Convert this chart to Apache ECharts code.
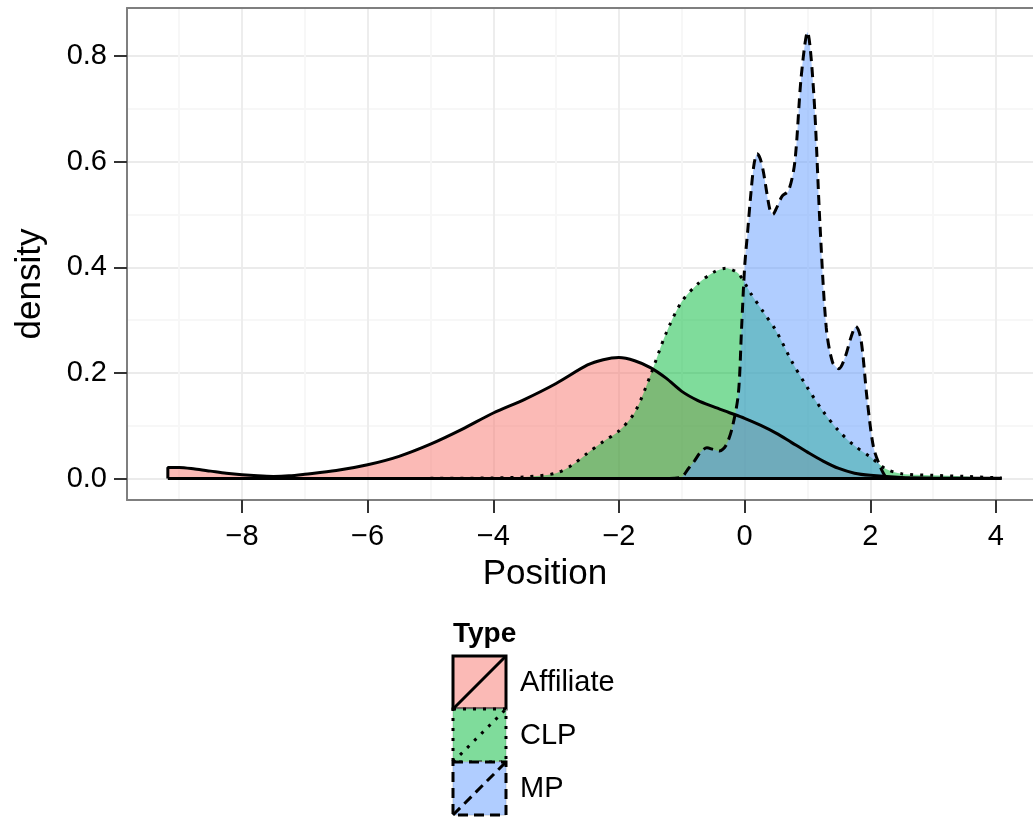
<!DOCTYPE html>
<html>
<head>
<meta charset="utf-8">
<script src="https://cdn.jsdelivr.net/npm/echarts@6/dist/echarts.min.js"></script>
<style>
  html, body { margin: 0; padding: 0; background: #fff; }
  #chart { width: 1033px; height: 819px; }
</style>
</head>
<body>
<div id="chart"></div>
<script>
// density estimates
const affX = [-9.18, -9.18, -9.0, -8.75, -8.5, -8.25, -8.0, -7.75, -7.5, -7.25, -7.0, -6.5, -6.0, -5.5, -5.0, -4.5, -4.0, -3.5, -3.0, -2.5, -2.25, -2.0, -1.75, -1.5, -1.25, -1.0, -0.75, -0.5, -0.25, 0.0, 0.25, 0.5, 0.75, 1.0, 1.25, 1.5, 1.75, 2.0, 2.5, 3.0, 3.5, 4.09];
const affY = [0, 0.021, 0.021, 0.018, 0.014, 0.010, 0.007, 0.005, 0.004, 0.005, 0.008, 0.015, 0.026, 0.042, 0.065, 0.093, 0.124, 0.150, 0.180, 0.215, 0.225, 0.229, 0.223, 0.210, 0.190, 0.165, 0.148, 0.136, 0.125, 0.114, 0.101, 0.086, 0.068, 0.050, 0.033, 0.019, 0.010, 0.006, 0.002, 0.001, 0.0005, 0.0003];

const clpX = [-5.0, -4.0, -3.5, -3.0, -2.75, -2.5, -2.25, -2.0, -1.75, -1.5, -1.25, -1.0, -0.75, -0.5, -0.3, -0.1, 0.1, 0.3, 0.5, 0.75, 1.0, 1.25, 1.5, 1.75, 2.0, 2.25, 2.5, 3.0, 3.5, 4.09];
const clpY = [0.0005, 0.001, 0.003, 0.010, 0.025, 0.048, 0.070, 0.090, 0.125, 0.195, 0.275, 0.335, 0.368, 0.390, 0.398, 0.388, 0.350, 0.315, 0.280, 0.222, 0.172, 0.127, 0.090, 0.062, 0.041, 0.018, 0.009, 0.006, 0.004, 0.001];

const mpX = [-1.2, -1.0, -0.9, -0.8, -0.7, -0.6, -0.5, -0.4, -0.3, -0.2, -0.1, -0.05, 0.0, 0.05, 0.1, 0.15, 0.2, 0.25, 0.3, 0.4, 0.45, 0.5, 0.6, 0.7, 0.8, 0.9, 1.0, 1.1, 1.2, 1.3, 1.4, 1.5, 1.6, 1.7, 1.77, 1.85, 1.95, 2.05, 2.15, 2.25, 2.35, 4.09];
const mpY = [0, 0.003, 0.018, 0.033, 0.050, 0.058, 0.055, 0.052, 0.062, 0.095, 0.160, 0.280, 0.400, 0.470, 0.540, 0.595, 0.615, 0.605, 0.580, 0.510, 0.500, 0.510, 0.535, 0.545, 0.600, 0.760, 0.845, 0.730, 0.480, 0.285, 0.220, 0.208, 0.230, 0.270, 0.288, 0.265, 0.150, 0.060, 0.025, 0.003, 0, 0];

const typeNames = ['Affiliate', 'CLP', 'MP'];
const typeColors = ['#F8766D', '#00BA38', '#619CFF'];
const xTicks = [-8, -6, -4, -2, 0, 2, 4];
const xMinor = [-9, -7, -5, -3, -1, 1, 3];
const yTicks = [0, 0.2, 0.4, 0.6, 0.8];
const yMinor = [0.1, 0.3, 0.5, 0.7];

const FONT = '"Liberation Sans", Arial, Helvetica, sans-serif';
const LW = 3;
const dashTypes = ['solid', [3, 7], [10, 6]];
const X_MIN = -9.83, X_MAX = 4.59, Y_MIN = -0.0407, Y_MAX = 0.8909;

function pairs(xs, ys) {
    return xs.map((x, i) => [x, ys[i]]);
}

const chart = echarts.init(document.getElementById('chart'));

const seriesData = [pairs(affX, affY), pairs(clpX, clpY), pairs(mpX, mpY)];

const series = seriesData.map((d, i) => ({
    name: typeNames[i],
    type: 'line',
    data: d,
    showSymbol: false,
    smooth: 0.3,
    lineStyle: { color: '#000', width: LW, type: dashTypes[i] },
    areaStyle: { color: typeColors[i], opacity: 0.5 },
    silent: true
}));
// baseline of the polygons
series.push({
    type: 'line',
    data: [[affX[0], 0], [affX[affX.length - 1], 0]],
    showSymbol: false,
    lineStyle: { color: '#000', width: LW },
    silent: true
});

// legend keys
const legend = [];
const kx = 453, ky = 656, ks = 53;
typeNames.forEach((name, i) => {
    const y0 = ky + i * ks;
    const dash = dashTypes[i] === 'solid' ? null : dashTypes[i];
    legend.push({
        type: 'rect', shape: { x: kx, y: y0, width: ks, height: ks },
        style: { fill: '#fff', stroke: '#cccccc', lineWidth: 1 }
    });
    legend.push({
        type: 'rect', shape: { x: kx, y: y0, width: ks, height: ks },
        style: { fill: echarts.color.modifyAlpha(typeColors[i], 0.5), stroke: '#000', lineWidth: LW, lineDash: dash }
    });
    legend.push({
        type: 'line', shape: { x1: kx, y1: y0 + ks, x2: kx + ks, y2: y0 },
        style: { stroke: '#000', lineWidth: LW, lineDash: dash }
    });
    legend.push({
        type: 'text', x: 520, y: y0 + ks / 2,
        style: { text: name, font: '29px ' + FONT, fill: '#000', verticalAlign: 'middle' }
    });
});
legend.push({
    type: 'text', x: 453, y: 634,
    style: { text: 'Type', font: 'bold 28px ' + FONT, fill: '#000', verticalAlign: 'middle' }
});
legend.push({
    type: 'text', x: 545, y: 574,
    style: { text: 'Position', font: '35px ' + FONT, fill: '#000', align: 'center', verticalAlign: 'middle' }
});
legend.push({
    type: 'text', x: 30, y: 284, rotation: Math.PI / 2,
    style: { text: 'density', font: '35px ' + FONT, fill: '#000', align: 'center', verticalAlign: 'middle' }
});

const minus = s => String(s).replace('-', '\u2212');
const frame = () => ({ show: true, onZero: false, lineStyle: { color: '#7f7f7f', width: 2 } });

const option = {
    animation: false,
    backgroundColor: '#fff',
    grid: { left: 127, top: 8, right: 0, height: 492 },
    xAxis: [{
        type: 'value', min: X_MIN, max: X_MAX,
        axisLine: frame(),
        axisTick: { show: true, customValues: xTicks, length: 13, lineStyle: { color: '#333', width: 2 } },
        axisLabel: { customValues: xTicks, margin: 22, fontSize: 29, fontFamily: FONT, color: '#000', formatter: v => minus(v) },
        splitLine: { show: true, lineStyle: { color: '#ebebeb', width: 1.8 } }
    }, {
        type: 'value', min: X_MIN, max: X_MAX, position: 'top',
        axisLine: frame(),
        axisTick: { show: false, customValues: xMinor },
        axisLabel: { show: false, customValues: xMinor },
        splitLine: { show: true, lineStyle: { color: '#f7f7f7', width: 1.8 } }
    }],
    yAxis: [{
        type: 'value', min: Y_MIN, max: Y_MAX,
        axisLine: frame(),
        axisTick: { show: true, customValues: yTicks, length: 13, lineStyle: { color: '#333', width: 2 } },
        axisLabel: { customValues: yTicks, margin: 20, fontSize: 29, fontFamily: FONT, color: '#000', formatter: v => v.toFixed(1) },
        splitLine: { show: true, lineStyle: { color: '#ebebeb', width: 1.8 } }
    }, {
        type: 'value', min: Y_MIN, max: Y_MAX, position: 'right',
        axisLine: { show: false, onZero: false },
        axisTick: { show: false, customValues: yMinor },
        axisLabel: { show: false, customValues: yMinor },
        splitLine: { show: true, lineStyle: { color: '#f7f7f7', width: 1.8 } }
    }],
    series: series,
    graphic: legend
};

chart.setOption(option);
</script>
</body>
</html>
